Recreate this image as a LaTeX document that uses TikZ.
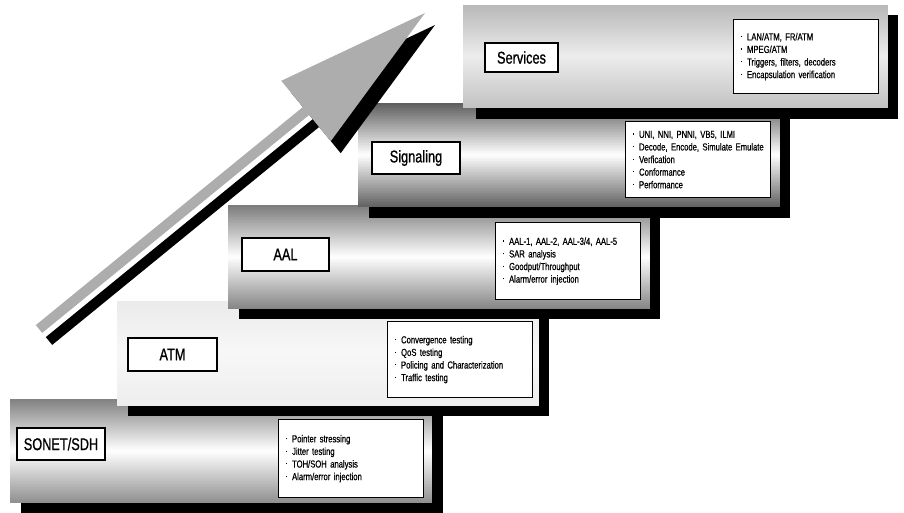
\documentclass[tikz,border=0pt]{standalone}
\usepackage{fontspec}
\setmainfont{Liberation Sans}[FakeStretch=0.75, WordSpace=0.8]
\newfontfamily\tagfont{Liberation Sans}[FakeStretch=0.75, FakeBold=0.9, WordSpace=0.8]
\newfontfamily\itemfont{Liberation Sans}[FakeStretch=0.75, FakeBold=0.6, WordSpace=0.8]
% small raised square used as list bullet, indented from the box edge
\newcommand\bul{\hspace*{7.5pt}\makebox[6pt][l]{\raisebox{0.62ex}{\rule{1.1pt}{1.1pt}}}}
% step panel: horizontal bands going from the top grey to the middle grey and on to the bottom grey
% arguments: x, y, width, height, top, middle, bottom (percent of black)
\newcommand\gradpanel[7]{%
  \foreach \i in {0,...,51}{%
    \pgfmathsetmacro\t{(\i+0.5)/52}%
    \pgfmathsetmacro\p{\t<0.5 ? #5+(#6-#5)*\t*2 : #6+(#7-#6)*(\t-0.5)*2}%
    \pgfmathsetmacro\ya{#2+\i*#4/52}%
    \pgfmathsetmacro\yb{#2+min((\i+1)*#4/52+0.5,#4)}%
    \fill[black!\p] (#1,\ya) rectangle ({#1+#3},\yb);
  }}
\definecolor{arrowgray}{HTML}{ADADAD}
\begin{document}
\begin{tikzpicture}[x=1pt,y=-1pt,
  stepshadow/.style={fill=black},
  tag/.style={draw=black, line width=1.6pt, fill=white, inner sep=0pt,
    minimum width=88pt, minimum height=32pt, font=\tagfont\fontsize{17}{20}\selectfont},
  items/.style={draw=black, line width=1.2pt, fill=white, anchor=north west,
    inner sep=0pt, minimum width=145pt, minimum height=77pt,
    text width=145pt, align=left, font=\itemfont\fontsize{10.2}{12.6}\selectfont},
  bigarrow/.pic={\path[pic actions] (35.8,325.1) -- (302.8,107.1) -- (281.3,80.8)
    -- (425,13) -- (330.7,141.2) -- (309.2,114.9) -- (42.2,332.9) -- cycle;}
]
\useasboundingbox (0,0) rectangle (904,512);

% SONET/SDH step
\fill[stepshadow] (21,410) rectangle ++(422,104);
\gradpanel{10}{399}{422}{104}{50}{0}{44}
\node[tag] (sonetlbl) at (61,444) {SONET/SDH};
\node[items, minimum height=78pt] (sonetlist) at (278,419)
  {\bul Pointer stressing\\ \bul Jitter testing\\ \bul TOH/SOH analysis\\ \bul Alarm/error injection};

% ATM step
\fill[stepshadow] (128,312) rectangle ++(421,104);
\gradpanel{117}{301}{422}{105}{8}{3}{7}
\node[tag, minimum width=89pt, minimum height=33pt] (atmlbl) at (172.5,354.5) {ATM};
\node[items, minimum height=76pt] (atmlist) at (387,321)
  {\bul Convergence testing\\ \bul QoS testing\\ \bul Policing and Characterization\\ \bul Traffic testing};

% AAL step
\fill[stepshadow] (239,215) rectangle ++(421,104);
\gradpanel{228}{205}{422}{104}{52}{0}{48}
\node[tag, minimum width=87pt, minimum height=33pt] (aallbl) at (285.5,254.5) {AAL};
\node[items] (aallist) at (495,222)
  {\bul AAL-1, AAL-2, AAL-3/4, AAL-5\\ \bul SAR analysis\\ \bul Goodput/Throughput\\ \bul Alarm/error injection};

% Signaling step
\fill[stepshadow] (369,114) rectangle ++(421,104);
\gradpanel{358}{103}{422}{104}{64}{0}{62}
\node[tag] (siglbl) at (416,158) {Signaling};
\node[items, minimum height=76pt] (siglist) at (625,121)
  {\bul UNI, NNI, PNNI, VB5, ILMI\\ \bul Decode, Encode, Simulate Emulate\\ \bul Verfication\\ \bul Conformance\\ \bul Performance};

% Services step
\fill[stepshadow] (476,15) rectangle ++(422,104);
\gradpanel{463}{5}{425}{103}{28}{7}{24}
\node[tag, minimum width=73pt, minimum height=29pt] (svclbl) at (521.5,57.5) {Services};
\node[items, minimum height=74pt] (svclist) at (733,19)
  {\bul LAN/ATM, FR/ATM\\ \bul MPEG/ATM\\ \bul Triggers, filters, decoders\\ \bul Encapsulation verification};

% rising arrow with its offset black shadow
\pic[fill=black] at (10,12) {bigarrow};
\pic[fill=arrowgray] at (0,0) {bigarrow};
\end{tikzpicture}
\end{document}
